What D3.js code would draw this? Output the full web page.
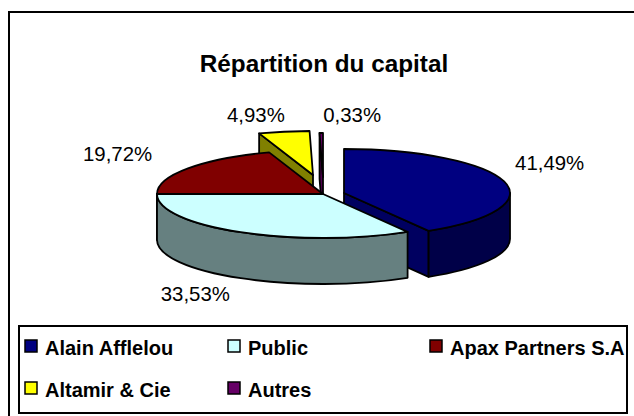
<!DOCTYPE html>
<html>
<head>
<meta charset="utf-8">
<script src="https://cdn.jsdelivr.net/npm/d3@7"></script>
<style>
  body { margin: 0; background: #fff; }
  text { font-family: "Liberation Sans", Arial, sans-serif; fill: #000; }
</style>
</head>
<body>
<div id="chart"></div>
<script>
// Data
const categories = ["Alain Afflelou", "Public", "Apax Partners S.A", "Altamir & Cie", "Autres"];
const shares = [41.49, 33.53, 19.72, 4.93, 0.33];
const shareLabels = ["41,49%", "33,53%", "19,72%", "4,93%", "0,33%"];

// Styles, per slice
const topColors = ["#000080", "#ccffff", "#800000", "#ffff00", "#660066"];
const wallColors = ["#000048", "#668080", "#400000", "#808000", "#330033"];
const cutColors = ["#000060", "#668080", "#600000", "#808000", "#4d004d"];
// how far each slice is pulled out of the pie
const explode = [[21, -1], [0, 0], [0, 0], [-10, -19], [0, -17]];
// label start x / baseline, relative to the rim middle of the slice
const labelNudge = [[11, -11], [-80, 69], [-105, -7], [-57, -10], [2, -11]];
// back slices first
const drawOrder = [4, 3, 2, 0, 1];

const width = 634, height = 416;
const cx = 323, cy = 194, rx = 166, ry = 44, depth = 46;

const svg = d3.select("#chart").append("svg")
    .attr("width", width)
    .attr("height", height)
    .style("display", "block");

// Outer frame only shows on the top and left
svg.append("path")
    .attr("d", `M9,${height}V12H${width}`)
    .attr("fill", "none")
    .attr("stroke", "#000")
    .attr("stroke-width", 2);

svg.append("text")
    .attr("x", 324)
    .attr("y", 72)
    .attr("text-anchor", "middle")
    .style("font-size", "24.3px")
    .style("font-weight", "bold")
    .text("Répartition du capital");

// Pie angles go clockwise from 12 o'clock, which fits the flattened ellipse below
const arcs = d3.pie().sort(null).value(d => d)(shares);
const slices = arcs.map((a, i) => ({
    i,
    start: a.startAngle,
    end: a.endAngle,
    ox: cx + explode[i][0],
    oy: cy + explode[i][1]
}));

const rim = (s, t, dy = 0) => [s.ox + rx * Math.sin(t), s.oy - ry * Math.cos(t) + dy];

function topPath(s) {
    const p0 = rim(s, s.start), p1 = rim(s, s.end);
    const large = s.end - s.start > Math.PI ? 1 : 0;
    return `M${s.ox},${s.oy}L${p0}A${rx},${ry} 0 ${large} 1 ${p1}Z`;
}

function cutPath(s, t) {
    const p = rim(s, t);
    return `M${s.ox},${s.oy}L${p}V${p[1] + depth}L${s.ox},${s.oy + depth}Z`;
}

function wallPath(s) {
    // only the front half of the rim can be seen
    const a = Math.max(s.start, Math.PI / 2), b = Math.min(s.end, Math.PI * 1.5);
    if (a >= b) return null;
    const p0 = rim(s, a), p1 = rim(s, b), p2 = rim(s, b, depth), p3 = rim(s, a, depth);
    return `M${p0}A${rx},${ry} 0 0 1 ${p1}L${p2}A${rx},${ry} 0 0 0 ${p3}Z`;
}

const pieG = svg.append("g")
    .attr("stroke", "#000")
    .attr("stroke-width", 1.8)
    .attr("stroke-linejoin", "round");

drawOrder.forEach(k => {
    const s = slices[k];
    if (Math.sin(s.start) < 0) pieG.append("path").attr("d", cutPath(s, s.start)).attr("fill", cutColors[k]);
    if (Math.sin(s.end) > 0) pieG.append("path").attr("d", cutPath(s, s.end)).attr("fill", cutColors[k]);
    const w = wallPath(s);
    if (w) pieG.append("path").attr("d", w).attr("fill", wallColors[k]);
    pieG.append("path").attr("d", topPath(s)).attr("fill", topColors[k]);
});

// Value labels
svg.append("g").selectAll("text")
    .data(slices)
    .enter().append("text")
    .attr("x", s => rim(s, (s.start + s.end) / 2)[0] + labelNudge[s.i][0])
    .attr("y", s => rim(s, (s.start + s.end) / 2)[1] + labelNudge[s.i][1])
    .style("font-size", "20.4px")
    .text(s => shareLabels[s.i]);

// Legend
svg.append("rect")
    .attr("x", 19)
    .attr("y", 326)
    .attr("width", 608)
    .attr("height", 87)
    .attr("fill", "#fff")
    .attr("stroke", "#000")
    .attr("stroke-width", 2);

const legendX = d3.scaleOrdinal().domain([0, 1, 2]).range([25, 228, 430]);
const legendY = d3.scaleOrdinal().domain([0, 1]).range([340, 382]);

const legend = svg.append("g").selectAll("g")
    .data(categories)
    .enter().append("g")
    .attr("transform", (d, i) => `translate(${legendX(i % 3)},${legendY(Math.floor(i / 3))})`);

legend.append("rect")
    .attr("width", 12)
    .attr("height", 12)
    .attr("fill", (d, i) => topColors[i])
    .attr("stroke", "#000")
    .attr("stroke-width", 1.5);

legend.append("text")
    .attr("x", 20)
    .attr("y", 15)
    .style("font-size", "20px")
    .style("font-weight", "bold")
    .text(d => d);
</script>
</body>
</html>
